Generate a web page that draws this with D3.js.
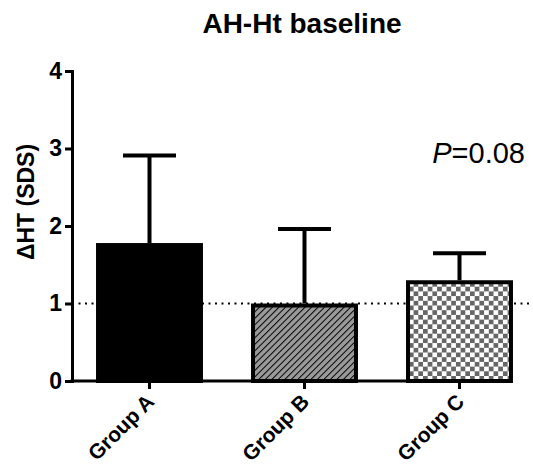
<!DOCTYPE html>
<html>
<head>
<meta charset="utf-8">
<script src="https://cdn.jsdelivr.net/npm/d3@7"></script>
<style>
  body { margin: 0; background: #fff; }
  text { font-family: "Liberation Sans", Arial, sans-serif; }
</style>
</head>
<body>
<svg id="chart" width="533" height="469"></svg>
<script>
var groups = ["Group A", "Group B", "Group C"];
var means = [1.78, 1.0, 1.3];
var errUpper = [2.91, 1.96, 1.65];
var yTicks = [0, 1, 2, 3, 4];
var refLine = 1;

var svg = d3.select('#chart');
var width = 533, height = 469;
var margin = {top: 71, left: 72, bottom: 88};

var x = d3.scaleBand()
    .domain(groups)
    .range([margin.left, 537])
    .paddingInner(0.31)
    .paddingOuter(0.155);

var y = d3.scaleLinear()
    .domain([0, 4])
    .range([height - margin.bottom, margin.top]);

// fill patterns
var defs = svg.append("defs");
var hatch = defs.append("pattern")
    .attr("id", "hatch")
    .attr("patternUnits", "userSpaceOnUse")
    .attr("width", 4.6).attr("height", 4.6)
    .attr("patternTransform", "rotate(45)");
hatch.append("rect").attr("width", 4.6).attr("height", 4.6).attr("fill", "#9a9a9a");
hatch.append("line")
    .attr("x1", 0).attr("y1", 0).attr("x2", 0).attr("y2", 4.6)
    .attr("stroke", "#000").attr("stroke-width", 2);

var check = defs.append("pattern")
    .attr("id", "check")
    .attr("patternUnits", "userSpaceOnUse")
    .attr("width", 9.4).attr("height", 9.4);
check.append("rect").attr("width", 9.4).attr("height", 9.4).attr("fill", "#fff");
check.append("rect").attr("width", 4.7).attr("height", 4.7).attr("fill", "#666");
check.append("rect").attr("x", 4.7).attr("y", 4.7).attr("width", 4.7).attr("height", 4.7).attr("fill", "#666");

var fills = ["#000", "url(#hatch)", "url(#check)"];

// reference line
svg.append("line")
    .attr("x1", margin.left).attr("x2", width)
    .attr("y1", y(refLine)).attr("y2", y(refLine))
    .attr("stroke", "#000")
    .attr("stroke-width", 2)
    .attr("stroke-dasharray", "2,4.5");

// error bars
var eb = svg.append("g");
groups.forEach(function(g, i){
  var cx = x(g) + x.bandwidth()/2;
  eb.append("line")
      .attr("x1", cx).attr("x2", cx)
      .attr("y1", y(means[i])).attr("y2", y(errUpper[i]))
      .attr("stroke", "#000").attr("stroke-width", 4);
  eb.append("line")
      .attr("x1", cx - 26.5).attr("x2", cx + 26.5)
      .attr("y1", y(errUpper[i])).attr("y2", y(errUpper[i]))
      .attr("stroke", "#000").attr("stroke-width", 4);
});

// bars
svg.append("g").selectAll("rect")
    .data(groups)
    .enter().append("rect")
    .attr("x", function(d){ return x(d) + 2; })
    .attr("width", x.bandwidth() - 4)
    .attr("y", function(d, i){ return y(means[i]) + 2; })
    .attr("height", function(d, i){ return y(0) - y(means[i]) - 2; })
    .attr("fill", function(d, i){ return fills[i]; })
    .attr("stroke", "#000")
    .attr("stroke-width", 4);

// y axis
var yAxis = svg.append("g")
    .attr("transform", "translate(" + margin.left + ",0)")
    .call(d3.axisLeft(y).tickValues(yTicks).tickFormat(d3.format("d")).tickSize(7).tickPadding(3));
yAxis.select(".domain").attr("stroke-width", 3);
yAxis.selectAll(".tick line").attr("stroke-width", 3);
yAxis.selectAll("text")
    .attr("font-size", 23).attr("font-weight", "bold")
    .attr("font-family", "Liberation Sans, Arial, sans-serif")
    .attr("fill", "#000");

// x axis
var xAxis = svg.append("g")
    .attr("transform", "translate(0," + y(0) + ")")
    .call(d3.axisBottom(x).tickSize(8).tickPadding(6));
xAxis.select(".domain").remove();
xAxis.append("line")
    .attr("x1", margin.left - 1.5).attr("x2", x(groups[2]) + x.bandwidth())
    .attr("stroke", "#000").attr("stroke-width", 3);
xAxis.selectAll(".tick line").attr("stroke-width", 3);
xAxis.selectAll(".tick text")
    .attr("font-size", 21).attr("font-weight", "bold")
    .attr("font-family", "Liberation Sans, Arial, sans-serif")
    .attr("fill", "#000")
    .attr("text-anchor", "end")
    .attr("transform", "translate(6,22) rotate(-45)")
    .attr("dy", 0)
    .attr("y", 0);

// title
svg.append("text")
    .attr("x", 302).attr("y", 33)
    .attr("text-anchor", "middle")
    .attr("font-size", 28).attr("font-weight", "bold")
    .text("AH-Ht baseline");

// y label
svg.append("text")
    .attr("transform", "translate(34," + (y(2) - 24) + ") rotate(-90)")
    .attr("text-anchor", "middle")
    .attr("font-size", 23).attr("font-weight", "bold")
    .text("\u0394HT (SDS)");

// p value
var p = svg.append("text")
    .attr("x", 525).attr("y", 163)
    .attr("text-anchor", "end")
    .attr("font-size", 29);
p.append("tspan").attr("font-style", "italic").text("P");
p.append("tspan").text("=0.08");
</script>
</body>
</html>
